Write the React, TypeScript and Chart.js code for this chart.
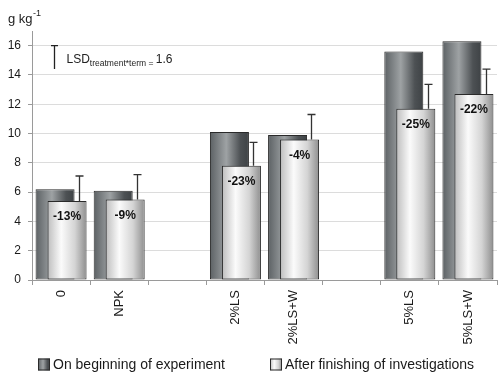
import React, { useEffect, useRef } from "react";
import { Chart, registerables } from "chart.js";

Chart.register(...registerables);

const categories = ["0", "NPK", "", "2%LS", "2%LS+W", "", "5%LS", "5%LS+W"];
const seriesNames = ["On beginning of experiment", "After finishing of investigations"];
const beginValues = [6.2, 6.1, null, 10.1, 9.9, null, 15.6, 16.3];
const afterValues = [5.4, 5.5, null, 7.8, 9.6, null, 11.7, 12.7];
const afterErrors = [1.7, 1.7, null, 1.6, 1.7, null, 1.65, 1.7];
const changeLabels = ["-13%", "-9%", "", "-23%", "-4%", "", "-25%", "-22%"];
const yTicksMax = 16;
const yAxisMax = 17;
const yStep = 2;
const lsdValue = 1.6;
const lsdTop = 16;

const FONT = "'Liberation Sans', Arial, Helvetica, sans-serif";

const darkStops: [number, string][] = [
  [0, "#5c6164"],
  [0.42, "#9ea2a4"],
  [0.78, "#4d5154"],
  [1, "#3e4245"],
];
const lightStops: [number, string][] = [
  [0, "#bdbdbd"],
  [0.35, "#fbfbfb"],
  [0.7, "#d4d4d4"],
  [1, "#8e8e8e"],
];
const stopsBySeries = [darkStops, lightStops];

// Applies per-bar horizontal gradients and makes the second series draw on top of the first
const gradientPlugin = {
  id: "barGradients",
  beforeDatasetsDraw(chart: any) {
    const ctx = chart.ctx;
    chart.data.datasets.forEach((_ds: any, di: number) => {
      const meta = chart.getDatasetMeta(di);
      meta.data.forEach((el: any) => {
        if (!el || !isFinite(el.x) || !isFinite(el.width)) return;
        const left = el.x - el.width / 2;
        const g = ctx.createLinearGradient(left, 0, left + el.width, 0);
        stopsBySeries[di].forEach(([o, col]) => g.addColorStop(o, col));
        el.options.backgroundColor = g;
      });
    });
  },
  beforeDatasetDraw(_chart: any, args: any) {
    if (args.index === 1) return false;
  },
  afterDatasetsDraw(chart: any) {
    const ctx = chart.ctx;
    const meta = chart.getDatasetMeta(1);
    meta.data.forEach((el: any, i: number) => {
      if (afterValues[i] == null) return;
      el.draw(ctx);
    });
  },
};

const annotationPlugin = {
  id: "annotations",
  afterDatasetsDraw(chart: any) {
    const ctx = chart.ctx;
    const xs = chart.scales.x;
    const ys = chart.scales.y;
    const meta = chart.getDatasetMeta(1);
    ctx.save();
    // error bars
    ctx.strokeStyle = "#333";
    ctx.lineWidth = 1.3;
    meta.data.forEach((el: any, i: number) => {
      const v = afterValues[i];
      const e = afterErrors[i];
      if (v == null || e == null) return;
      const x = Math.round(el.x + el.width * 0.3) + 0.5;
      const y0 = ys.getPixelForValue(v);
      const y1 = ys.getPixelForValue(v + e);
      ctx.beginPath();
      ctx.moveTo(x, y0);
      ctx.lineTo(x, y1);
      ctx.moveTo(x - 4, y1);
      ctx.lineTo(x + 4, y1);
      ctx.stroke();
    });
    // percent labels
    ctx.fillStyle = "#111";
    ctx.font = `bold 12px ${FONT}`;
    ctx.textAlign = "center";
    ctx.textBaseline = "middle";
    meta.data.forEach((el: any, i: number) => {
      const v = afterValues[i];
      if (v == null || !changeLabels[i]) return;
      ctx.fillText(changeLabels[i], el.x, ys.getPixelForValue(v) + 16);
    });
    // LSD marker
    const slot = xs.getPixelForValue(1) - xs.getPixelForValue(0);
    const lx = Math.round(xs.getPixelForValue(0) - slot * 0.12) + 0.5;
    const ly0 = ys.getPixelForValue(lsdTop);
    const ly1 = ys.getPixelForValue(lsdTop - lsdValue);
    ctx.strokeStyle = "#222";
    ctx.lineWidth = 1.3;
    ctx.beginPath();
    ctx.moveTo(lx, ly0);
    ctx.lineTo(lx, ly1);
    ctx.moveTo(lx - 3.5, ly0);
    ctx.lineTo(lx + 3.5, ly0);
    ctx.stroke();
    ctx.fillStyle = "#222";
    ctx.textAlign = "left";
    ctx.textBaseline = "alphabetic";
    let tx = lx + 12;
    const base = ly0 + 17;
    ctx.font = `12px ${FONT}`;
    ctx.fillText("LSD", tx, base);
    tx += ctx.measureText("LSD").width;
    ctx.font = `8.5px ${FONT}`;
    const sub = "treatment*term = ";
    ctx.fillText(sub, tx, base + 3);
    tx += ctx.measureText(sub).width;
    ctx.font = `12px ${FONT}`;
    ctx.fillText(String(lsdValue), tx, base);
    // unit label
    ctx.font = `13px ${FONT}`;
    ctx.fillText("g kg", 8, 23);
    const w = ctx.measureText("g kg").width;
    ctx.font = `9px ${FONT}`;
    ctx.fillText("-1", 8 + w + 0.5, 16);
    ctx.restore();
  },
};

const legendPlugin = {
  id: "customLegend",
  afterDraw(chart: any) {
    const ctx = chart.ctx;
    const starts = [38, 270];
    const cy = 364.5;
    ctx.save();
    chart.data.datasets.forEach((ds: any, di: number) => {
      const x0 = starts[di];
      const g = ctx.createLinearGradient(x0, 0, x0 + 12, 0);
      stopsBySeries[di].forEach(([o, col]) => g.addColorStop(o, col));
      ctx.fillStyle = g;
      ctx.fillRect(x0, cy - 6, 12, 12);
      ctx.strokeStyle = "#2a2a2a";
      ctx.lineWidth = 1;
      ctx.strokeRect(x0 + 0.5, cy - 5.5, 11, 11);
      ctx.fillStyle = "#1a1a1a";
      ctx.font = `14px ${FONT}`;
      ctx.textAlign = "left";
      ctx.textBaseline = "middle";
      ctx.fillText(ds.label, x0 + 15, cy + 0.5);
    });
    ctx.restore();
  },
};

export default function App() {
  const ref = useRef<HTMLCanvasElement | null>(null);
  useEffect(() => {
    if (!ref.current) return;
    const chart = new Chart(ref.current, {
      type: "bar",
      data: {
        labels: categories,
        datasets: [
          {
            label: seriesNames[0],
            data: beginValues,
            backgroundColor: () => "#777",
            borderColor: "#2a2a2a",
            borderWidth: 1,
            borderSkipped: false,
          },
          {
            label: seriesNames[1],
            data: afterValues,
            backgroundColor: () => "#ddd",
            borderColor: "#2a2a2a",
            borderWidth: 1,
            borderSkipped: false,
          },
        ],
      },
      options: {
        responsive: false,
        animation: false,
        datasets: {
          bar: {
            categoryPercentage: 24 / 58.125,
            barPercentage: 3.25,
          },
        },
        layout: { padding: { top: 31, right: 3, left: 0, bottom: 34 } },
        plugins: {
          tooltip: { enabled: false },
          legend: { display: false },
        },
        scales: {
          x: {
            grid: {
              display: true,
              drawOnChartArea: false,
              drawTicks: true,
              tickLength: 5,
              tickColor: "#9a9a9a",
              offset: true,
            },
            border: { color: "#9a9a9a" },
            ticks: {
              autoSkip: false,
              minRotation: 90,
              maxRotation: 90,
              padding: 5,
              color: "#1a1a1a",
              font: { family: FONT, size: 13 },
            },
            afterFit: (s: any) => {
              s.height = 70;
            },
          },
          y: {
            min: 0,
            max: yAxisMax,
            grid: {
              color: "#dcdcdc",
              tickColor: "#9a9a9a",
              tickLength: 4,
            },
            border: { color: "#9a9a9a" },
            ticks: {
              stepSize: yStep,
              includeBounds: false,
              padding: 7,
              color: "#1a1a1a",
              font: { family: FONT, size: 12 },
              callback: (v: any) => (Number(v) <= yTicksMax ? String(v) : ""),
            },
            afterFit: (s: any) => {
              s.width = 32;
            },
          },
        },
      },
      plugins: [gradientPlugin, annotationPlugin, legendPlugin],
    } as any);
    return () => chart.destroy();
  }, []);
  return (
    <div style={{ position: "fixed", left: 0, top: 0, width: 500, height: 384, background: "#fff" }}>
      <canvas ref={ref} width={500} height={384} style={{ display: "block" }} />
    </div>
  );
}
